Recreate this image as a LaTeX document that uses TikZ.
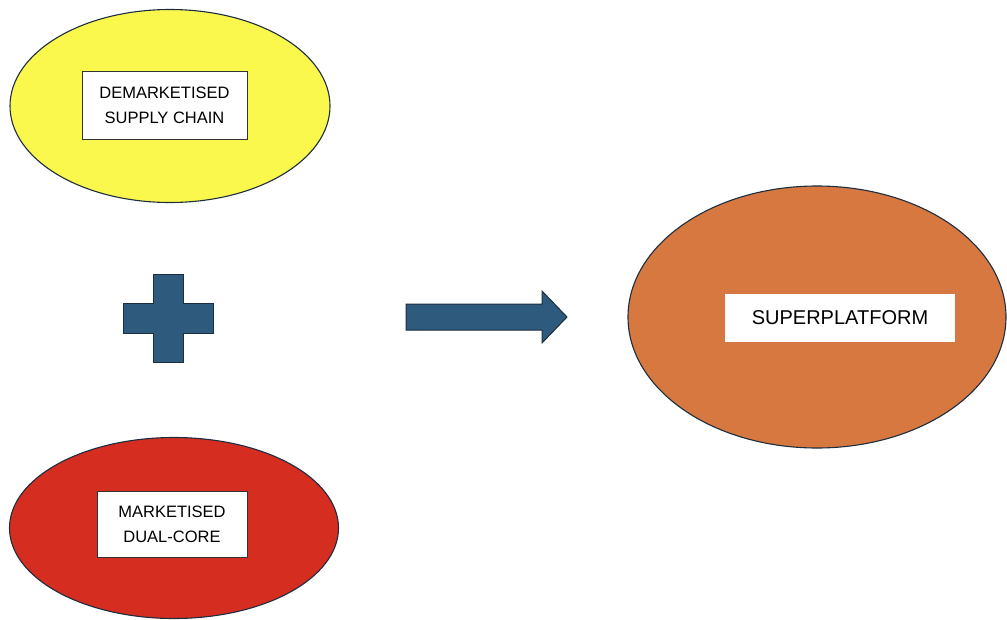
\documentclass[tikz,border=0pt]{standalone}
\usepackage{fontspec}
\setmainfont{Liberation Sans}
\usetikzlibrary{shapes.geometric}
\definecolor{cyel}{HTML}{FAF84C}
\definecolor{cred}{HTML}{D52D1F}
\definecolor{corg}{HTML}{D77840}
\definecolor{cblue}{HTML}{2E5A7D}
\definecolor{cline}{HTML}{1C2E40}
\tikzset{
  blob/.style={ellipse, draw=cline, line width=1.1pt, inner sep=0pt},
  lbox/.style={draw=black!80, line width=0.6pt, fill=white, align=center, inner sep=0pt, font=\fontsize{16.5}{25}\selectfont},
  shapefill/.style={fill=cblue, draw=cline, line width=1pt, line join=miter}
}
\begin{document}
\begin{tikzpicture}[x=1pt,y=-1pt]
\useasboundingbox (0,0) rectangle (1007,619);
\fill[white] (0,0) rectangle (1007,619);
% ellipses
\node[blob, fill=cyel, minimum width=320pt, minimum height=193pt] (yel) at (170,106) {};
\node[blob, fill=cred, minimum width=329pt, minimum height=181pt] (red) at (174,528) {};
\node[blob, fill=corg, minimum width=378pt, minimum height=262pt] (org) at (817,317) {};
% label boxes
\node[lbox, minimum width=165pt, minimum height=68pt] (tyel) at (164.5,105) {DEMARKETISED\\SUPPLY CHAIN};
\node[lbox, minimum width=150pt, minimum height=66pt] (tred) at (172,524) {MARKETISED\\DUAL-CORE};
\node[fill=white, draw=none, inner sep=0pt, minimum width=230pt, minimum height=48pt, font=\fontsize{20}{24}\selectfont] (torg) at (840,318) {SUPERPLATFORM};
% plus sign
\coordinate (plus) at (168,318);
\draw[shapefill] ([shift={(-15,-44)}]plus) -- ([shift={(15,-44)}]plus) -- ([shift={(15,-15)}]plus) -- ([shift={(45,-15)}]plus) -- ([shift={(45,15)}]plus) -- ([shift={(15,15)}]plus) -- ([shift={(15,44)}]plus) -- ([shift={(-15,44)}]plus) -- ([shift={(-15,15)}]plus) -- ([shift={(-45,15)}]plus) -- ([shift={(-45,-15)}]plus) -- ([shift={(-15,-15)}]plus) -- cycle;
% block arrow
\coordinate (arr) at (406,317);
\draw[shapefill] ([shift={(0,-13)}]arr) -- ([shift={(136,-13)}]arr) -- ([shift={(136,-26)}]arr) -- ([shift={(161,0)}]arr) -- ([shift={(136,26)}]arr) -- ([shift={(136,13)}]arr) -- ([shift={(0,13)}]arr) -- cycle;
\end{tikzpicture}
\end{document}
